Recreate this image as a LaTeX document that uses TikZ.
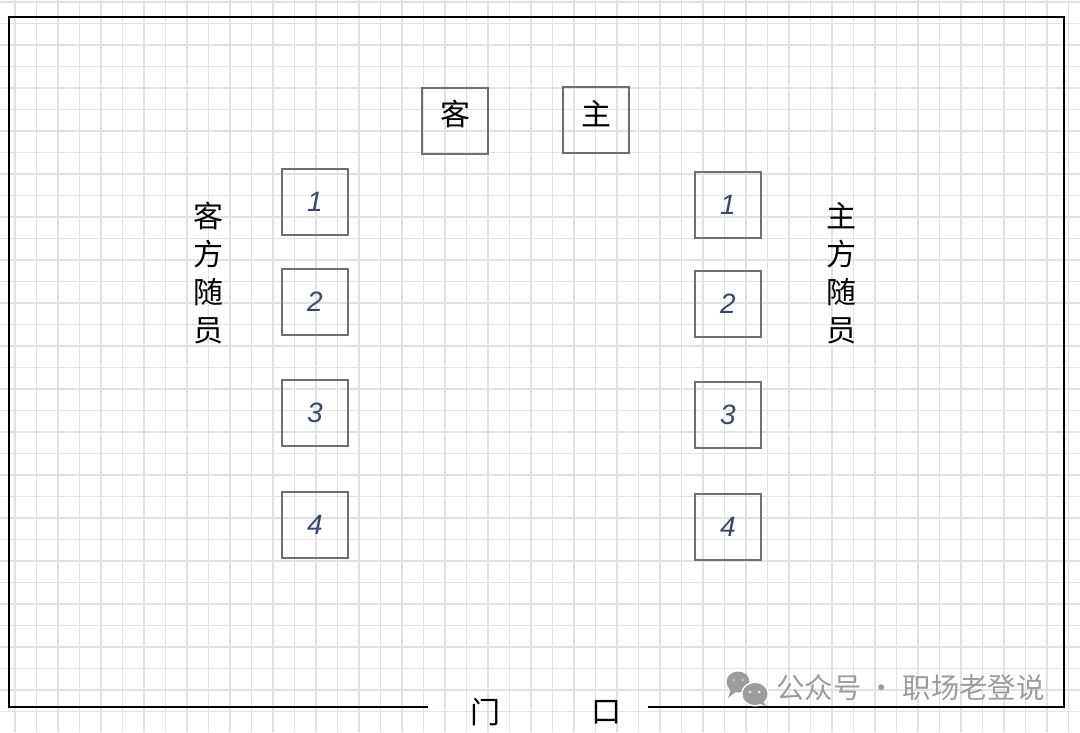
\documentclass[tikz,border=0pt]{standalone}
\usepackage{fontspec}
\setmainfont{Noto Sans CJK SC}
\newfontfamily\numfont{Liberation Sans}
\usetikzlibrary{positioning}

\definecolor{gridgray}{HTML}{E2E2E2}
\definecolor{seatgray}{HTML}{6E6E78}
\definecolor{ink}{HTML}{3B4766}
\definecolor{markgray}{HTML}{9C9C9C}

\begin{document}
\begin{tikzpicture}[
    x=0.75pt, y=-0.75pt,
    gridline/.style={draw=gridgray, line width=1.1pt},
    wall/.style={draw=black, line width=1.4pt},
    seat/.style={rectangle, draw=seatgray, line width=1.1pt, minimum size=49.5pt, inner sep=0pt},
    seatname/.style={inner sep=0pt, font=\fontsize{22.5}{22.5}\selectfont},
    numseat/.style={seat, font=\numfont\itshape\fontsize{21}{21}\selectfont, text=ink},
    sidelabel/.style={align=center, inner sep=0pt, font=\fontsize{22.5}{28.5}\selectfont},
    doorlabel/.style={inner sep=0pt, font=\fontsize{22.5}{22.5}\selectfont}
]
    % Paper
    \useasboundingbox (0,0) rectangle (1080,732);
    \fill[white] (0,0) rectangle (1080,732);
    \foreach \i in {0,...,49}
        \draw[gridline] (15+21.5*\i,0) -- (15+21.5*\i,732);
    \foreach \j in {0,...,33}
        \draw[gridline] (0,2+21.5*\j) -- (1080,2+21.5*\j);

    % Room walls, open at the door
    \draw[wall] (428,707) -- (9,707) -- (9,17) -- (1064,17) -- (1064,707) -- (648,707);
    \node[doorlabel] (doorleft) at (485,712) {门};
    \node[doorlabel] (doorright) at (606,712) {口};

    % Head seats
    \node[seat] (guest) at (455,121) {};
    \node[seat] (host) at (596,120) {};
    \node[seatname] (guestname) at ([yshift=5pt]guest.center) {客};
    \node[seatname] (hostname) at ([yshift=5pt]host.center) {主};

    % Entourage seats
    \foreach \n/\y in {1/202, 2/302, 3/413, 4/525}
        \node[numseat] (guest\n) at (315,\y) {\n};
    \foreach \n/\y in {1/205, 2/304, 3/415, 4/527}
        \node[numseat] (host\n) at (728,\y) {\n};

    % Side labels
    \node[sidelabel] (guestside) at (208,273) {客\\方\\随\\员};
    \node[sidelabel] (hostside) at (841,273) {主\\方\\随\\员};

    % Watermark
    \fill[markgray] (738,682) ellipse [x radius=11.5, y radius=10.5];
    \fill[markgray] (731,689) -- (728,698) -- (737,691) -- cycle;
    \fill[white] (755,694) ellipse [x radius=14, y radius=12.5];
    \fill[markgray] (755,694) ellipse [x radius=12.5, y radius=11];
    \fill[markgray] (762,701) -- (767,706) -- (757,703) -- cycle;
    \fill[gray!55] (734,680) circle (1.9) (743,680) circle (1.9);
    \fill[gray!25] (750,692) circle (1.7) (759,692) circle (1.7);
    \node[anchor=west, inner sep=0pt, text=markgray, font=\fontsize{21.3}{21.3}\selectfont] (watermark) at (776,688) {公众号 · 职场老登说};
\end{tikzpicture}
\end{document}
